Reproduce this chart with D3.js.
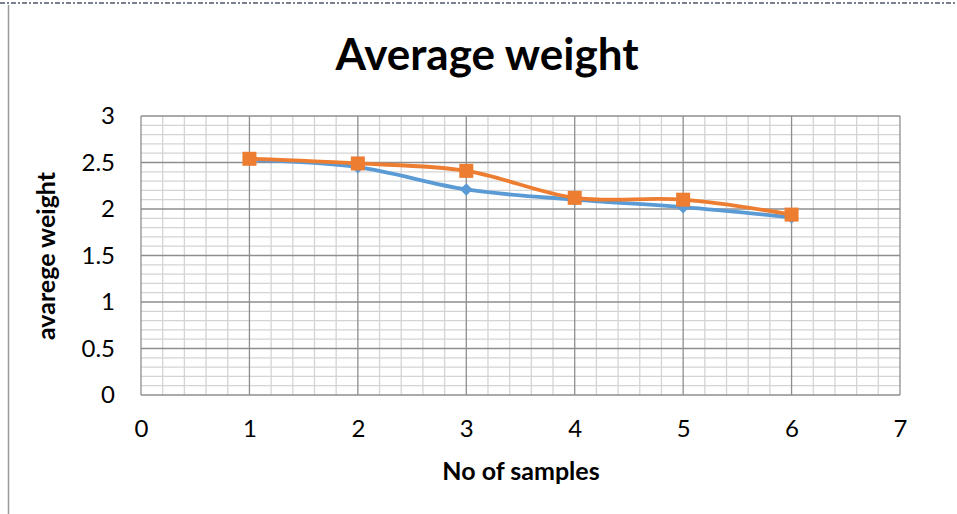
<!DOCTYPE html>
<html>
<head>
<meta charset="utf-8">
<script src="https://cdn.jsdelivr.net/npm/d3@7"></script>
<style>
  html, body { margin: 0; padding: 0; background: #fff; }
  svg { display: block; }
  text { font-family: Lato, "Open Sans", sans-serif; fill: #000; }
</style>
</head>
<body>
<svg id="chart" width="957" height="514"></svg>
<script>
// Sample numbers on the x axis
const samples = [1, 2, 3, 4, 5, 6];
// Average weight per sample, two measurement series
const seriesA = [2.53, 2.45, 2.21, 2.10, 2.02, 1.91];
const seriesB = [2.54, 2.49, 2.41, 2.12, 2.10, 1.94];
const xTicks = [0, 1, 2, 3, 4, 5, 6, 7];
const yTicks = [0, 0.5, 1, 1.5, 2, 2.5, 3];
const chartTitle = "Average weight";
const xTitle = "No of samples";
const yTitle = "avarege weight";

const svg = d3.select("#chart");
const W = 957, H = 514;
const plot = { left: 141, right: 900, top: 116, bottom: 395 };

// frame: dotted top edge and left rule
svg.append("line")
  .attr("x1", 0).attr("x2", W).attr("y1", 3).attr("y2", 3)
  .attr("stroke", "#7a8290").attr("stroke-width", 2)
  .attr("stroke-dasharray", "5,2,2,2");
svg.append("line")
  .attr("x1", 8.5).attr("x2", 8.5).attr("y1", 5).attr("y2", H)
  .attr("stroke", "#9a9a9a").attr("stroke-width", 1.5);

const x = d3.scaleLinear().domain([0, 7]).range([plot.left, plot.right]);
const y = d3.scaleLinear().domain([0, 3]).range([plot.bottom, plot.top]);

const g = svg.append("g");

// minor grid
const xMinor = d3.range(0, 7.0001, 0.2).filter(v => Math.abs(v - Math.round(v)) > 1e-6);
const yMinor = d3.range(0, 3.0001, 0.1).filter(v => Math.abs(v * 2 - Math.round(v * 2)) > 1e-6);
g.append("g").selectAll("line").data(xMinor).join("line")
  .attr("x1", d => x(d)).attr("x2", d => x(d))
  .attr("y1", plot.top).attr("y2", plot.bottom)
  .attr("stroke", "#d4d4d4").attr("stroke-width", 1.3);
g.append("g").selectAll("line").data(yMinor).join("line")
  .attr("x1", plot.left).attr("x2", plot.right)
  .attr("y1", d => y(d)).attr("y2", d => y(d))
  .attr("stroke", "#d4d4d4").attr("stroke-width", 1.3);

// major grid
g.append("g").selectAll("line").data(xTicks).join("line")
  .attr("x1", d => x(d)).attr("x2", d => x(d))
  .attr("y1", plot.top).attr("y2", plot.bottom)
  .attr("stroke", "#8e8e8e").attr("stroke-width", 1.3);
g.append("g").selectAll("line").data(yTicks).join("line")
  .attr("x1", plot.left).attr("x2", plot.right)
  .attr("y1", d => y(d)).attr("y2", d => y(d))
  .attr("stroke", "#8e8e8e").attr("stroke-width", 1.3);

// axes (labels only)
const xAxis = d3.axisBottom(x).tickValues(xTicks).tickSize(0).tickFormat(d3.format("d"));
const yAxis = d3.axisLeft(y).tickValues(yTicks).tickSize(0).tickPadding(26).tickFormat(d => String(d));
const gx = svg.append("g").attr("transform", `translate(0,${plot.bottom})`).call(xAxis);
const gy = svg.append("g").attr("transform", `translate(${plot.left},0)`).call(yAxis);
[gx, gy].forEach(a => {
  a.select(".domain").remove();
  a.selectAll("text").style("font-family", "Lato, sans-serif").style("font-size", "24px").attr("fill", "#000");
});
gx.selectAll("text").attr("y", 42).attr("dy", null);

// series
const line = d3.line().curve(d3.curveCatmullRom.alpha(0.5))
  .x((d, i) => x(samples[i])).y(d => y(d));

const blue = "#5b9bd5", orange = "#ed7d31";

svg.append("path").datum(seriesA).attr("d", line)
  .attr("fill", "none").attr("stroke", blue).attr("stroke-width", 3.8).attr("stroke-linejoin", "round");
svg.append("g").selectAll("path").data(seriesA).join("path")
  .attr("d", d3.symbol(d3.symbolDiamond2, 100)())
  .attr("transform", (d, i) => `translate(${x(samples[i])},${y(d)})`)
  .attr("fill", blue);

svg.append("path").datum(seriesB).attr("d", line)
  .attr("fill", "none").attr("stroke", orange).attr("stroke-width", 3.8).attr("stroke-linejoin", "round");
svg.append("g").selectAll("rect").data(seriesB).join("rect")
  .attr("x", (d, i) => x(samples[i]) - 7).attr("y", d => y(d) - 7)
  .attr("width", 14).attr("height", 14)
  .attr("fill", orange);

// titles
svg.append("text").attr("x", 487).attr("y", 70).attr("text-anchor", "middle")
  .style("font-size", "44px").style("font-weight", "bold").text(chartTitle);
svg.append("text").attr("x", 521).attr("y", 480).attr("text-anchor", "middle")
  .style("font-size", "25px").style("font-weight", "bold").text(xTitle);
svg.append("text").attr("transform", "translate(46,256) rotate(-90)").attr("text-anchor", "middle")
  .attr("dy", "0.35em")
  .style("font-size", "25px").style("font-weight", "bold").text(yTitle);
</script>
</body>
</html>
